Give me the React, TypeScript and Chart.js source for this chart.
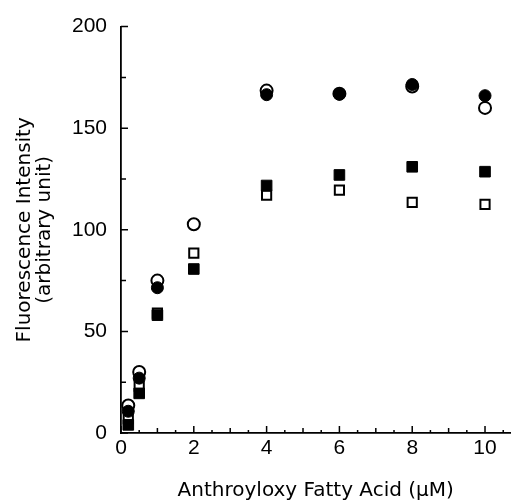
import React, { useEffect, useRef } from 'react';
import { Chart, registerables } from 'chart.js';

Chart.register(...registerables);

// ---- data ----
const concentrations = [0.2, 0.5, 1, 2, 4, 6, 8, 10];
const openCircles = [13.5, 30, 75, 102.7, 168.5, 167, 170.5, 160];
const filledCircles = [10.7, 27, 71.5, null, 166.5, 166.7, 171.5, 166];
const openSquares = [7, 23, 59, 88.5, 117, 119.5, 113.5, 112.5];
const filledSquares = [4, 19.5, 58, 80.7, 121.8, 127, 131, 128.6];

const xTickValues = [0, 2, 4, 6, 8, 10];
const xMinorOdd = [1, 3, 5, 7, 9];
const xMinorHalf = [0.5, 1.5, 2.5, 3.5, 4.5, 5.5, 6.5, 7.5, 8.5, 9.5, 10.5];
const yTickValues = [0, 50, 100, 150, 200];
const yMinor = [25, 75, 125, 175];

const xTitle = 'Anthroyloxy Fatty Acid (\u03BCM)';
const yTitle = ['Fluorescence Intensity', '(arbitrary unit)'];

const FONT = "'Liberation Sans', Arial, Helvetica, sans-serif";
const TITLE_FONT = "'DejaVu Sans', 'Liberation Sans', Arial, sans-serif";

function toPoints(vals: (number | null)[]) {
  const out: { x: number; y: number }[] = [];
  vals.forEach((v, i) => {
    if (v !== null) out.push({ x: concentrations[i], y: v });
  });
  return out;
}

const inwardTicks = {
  id: 'inwardTicks',
  afterDraw(chart: any) {
    const ctx = chart.ctx;
    const xs = chart.scales.x;
    const ys = chart.scales.y;
    const x0 = xs.left;
    const y0 = ys.bottom;
    ctx.save();
    ctx.strokeStyle = '#000';
    ctx.lineWidth = 1.5;
    ctx.beginPath();
    const vt = (v: number, len: number) => {
      const px = xs.getPixelForValue(v);
      ctx.moveTo(px, y0);
      ctx.lineTo(px, y0 - len);
    };
    const ht = (v: number, len: number) => {
      const py = ys.getPixelForValue(v);
      ctx.moveTo(x0, py);
      ctx.lineTo(x0 + len, py);
    };
    xTickValues.forEach((v) => vt(v, 7));
    xMinorOdd.forEach((v) => vt(v, 5));
    xMinorHalf.forEach((v) => vt(v, 3));
    yTickValues.forEach((v) => ht(v, 7));
    yMinor.forEach((v) => ht(v, 5));
    ctx.stroke();
    ctx.restore();
  },
};

export default function App() {
  const ref = useRef<HTMLCanvasElement | null>(null);

  useEffect(() => {
    if (!ref.current) return;
    const chart = new Chart(ref.current, {
      type: 'scatter',
      data: {
        datasets: [
          {
            label: 'filled circles',
            data: toPoints(filledCircles),
            pointStyle: 'circle',
            pointRadius: 6,
            backgroundColor: '#000',
            borderColor: '#000',
            borderWidth: 1,
            order: 0,
          },
          {
            label: 'filled squares',
            data: toPoints(filledSquares),
            pointStyle: 'rect',
            pointRadius: 7.5,
            backgroundColor: '#000',
            borderColor: '#000',
            borderWidth: 1,
            order: 1,
          },
          {
            label: 'open circles',
            data: toPoints(openCircles),
            pointStyle: 'circle',
            pointRadius: 6,
            backgroundColor: '#fff',
            borderColor: '#000',
            borderWidth: 2,
            order: 2,
          },
          {
            label: 'open squares',
            data: toPoints(openSquares),
            pointStyle: 'rect',
            pointRadius: 6.5,
            backgroundColor: '#fff',
            borderColor: '#000',
            borderWidth: 2,
            order: 3,
          },
        ],
      },
      options: {
        responsive: false,
        animation: false,
        layout: { padding: { top: 24, right: 0, left: 0, bottom: 0 } },
        plugins: { legend: { display: false }, tooltip: { enabled: false } },
        scales: {
          x: {
            type: 'linear',
            min: 0,
            max: 10.7,
            afterBuildTicks: (scale: any) => {
              scale.ticks = xTickValues.map((v) => ({ value: v }));
            },
            afterFit: (scale: any) => {
              scale.height = 71;
            },
            grid: { display: true, drawOnChartArea: false, drawTicks: false },
            border: { display: true, color: '#000', width: 1.8 },
            ticks: {
              color: '#000',
              padding: 3,
              maxRotation: 0,
              font: { family: FONT, size: 21 },
            },
            title: {
              display: true,
              text: xTitle,
              color: '#000',
              padding: { top: 0, bottom: 2 },
              font: { family: TITLE_FONT, size: 20, lineHeight: 1.1 },
            },
          },
          y: {
            type: 'linear',
            min: 0,
            max: 200,
            afterBuildTicks: (scale: any) => {
              scale.ticks = yTickValues.map((v) => ({ value: v }));
            },
            afterFit: (scale: any) => {
              scale.width = 121;
            },
            grid: { display: true, drawOnChartArea: false, drawTicks: false },
            border: { display: true, color: '#000', width: 1.8 },
            ticks: {
              color: '#000',
              padding: 14,
              font: { family: FONT, size: 21 },
            },
            title: {
              display: true,
              text: yTitle,
              color: '#000',
              padding: { top: 15, bottom: 0 },
              font: { family: TITLE_FONT, size: 20, lineHeight: 1.0 },
            },
          },
        },
      },
      plugins: [inwardTicks],
    });
    return () => chart.destroy();
  }, []);

  return (
    <div style={{ position: 'fixed', left: 0, top: 0, width: 519, height: 504, background: '#fff' }}>
      <canvas ref={ref} width={519} height={504} style={{ width: 519, height: 504, display: 'block' }} />
    </div>
  );
}
